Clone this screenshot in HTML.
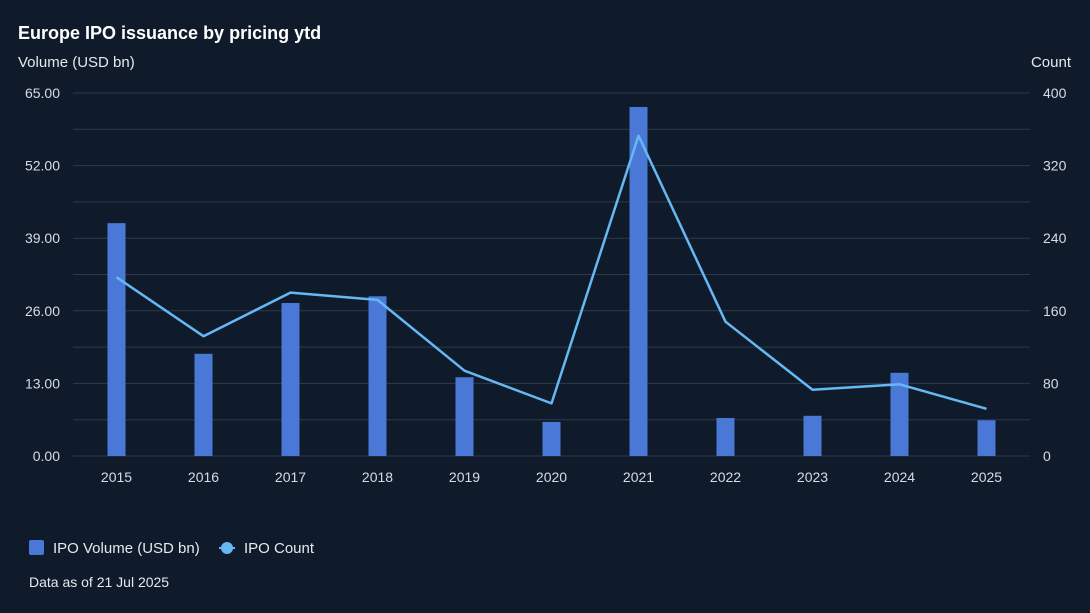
<!DOCTYPE html>
<html><head><meta charset="utf-8"><style>
body{margin:0;background:#0f1b2a;font-family:"Liberation Sans",sans-serif;}
svg{display:block}
</style></head><body>
<svg id="c" width="1090" height="613">
<rect width="1090" height="613" fill="#0f1b2a"/>
<text x="18" y="39" fill="#ffffff" font-size="18" font-weight="bold">Europe IPO issuance by pricing ytd</text>
<text x="18" y="67" fill="#e6e9ee" font-size="15">Volume (USD bn)</text>
<text x="1071" y="67" fill="#e6e9ee" font-size="15" text-anchor="end">Count</text>
<g id="grid"></g><g id="bars"></g><g id="line"></g><g id="axes"></g>
<g>
<rect x="29" y="540" width="15" height="15" rx="2" fill="#4a78d6"/>
<text x="53" y="553" fill="#e6e9ee" font-size="15">IPO Volume (USD bn)</text>
<line x1="219" y1="548" x2="235" y2="548" stroke="#66b8f5" stroke-width="2"/>
<circle cx="227" cy="548" r="6" fill="#66b8f5"/>
<text x="244" y="553" fill="#e6e9ee" font-size="15">IPO Count</text>
</g>
<text x="29" y="587" fill="#e6e9ee" font-size="14">Data as of 21 Jul 2025</text>
</svg>
<script>
const years=["2015","2016","2017","2018","2019","2020","2021","2022","2023","2024","2025"];
const volume=[41.7,18.3,27.4,28.6,14.1,6.1,62.5,6.8,7.2,14.9,6.4];
const count=[197,132,180,172,94,58,353,148,73,79,52];
const leftTicks=[0,13,26,39,52,65];
const rightTicks=[0,80,160,240,320,400];
const NS="http://www.w3.org/2000/svg";
const x0=73,x1=1030,yb=456,yt=93;
const step=(x1-x0)/years.length;
const xs=i=>x0+step*(i+0.5);
const yL=v=>yb-(v/65)*(yb-yt);
const yR=v=>yb-(v/400)*(yb-yt);
function mk(t,a,p){const e=document.createElementNS(NS,t);for(const k in a)e.setAttribute(k,a[k]);p.appendChild(e);return e;}
const g=document.getElementById('grid'),b=document.getElementById('bars'),l=document.getElementById('line'),ax=document.getElementById('axes');
for(let v=0;v<=65.01;v+=6.5){const ln=mk('line',{x1:x0,x2:x1,y1:yL(v),y2:yL(v),stroke:'#2c3a4c','stroke-width':1},g);

}
leftTicks.forEach(v=>{const t=mk('text',{x:60,y:yL(v)+5,fill:'#d7dce3','font-size':14,'text-anchor':'end'},ax);t.textContent=v.toFixed(2);

});
rightTicks.forEach(v=>{const t=mk('text',{x:1043,y:yR(v)+5,fill:'#d7dce3','font-size':14},ax);t.textContent=v;

});
years.forEach((y,i)=>{const t=mk('text',{x:xs(i),y:482,fill:'#d7dce3','font-size':14,'text-anchor':'middle'},ax);t.textContent=y;


const r=mk('rect',{x:xs(i)-9,y:yL(volume[i]),width:18,height:yb-yL(volume[i]),fill:'#4a78d6'},b);

});
const pl=mk('polyline',{points:count.map((c,i)=>xs(i)+','+yR(c)).join(' '),fill:'none',stroke:'#66b8f5','stroke-width':2.5,'stroke-linejoin':'round'},l);


</script>
</body></html>
